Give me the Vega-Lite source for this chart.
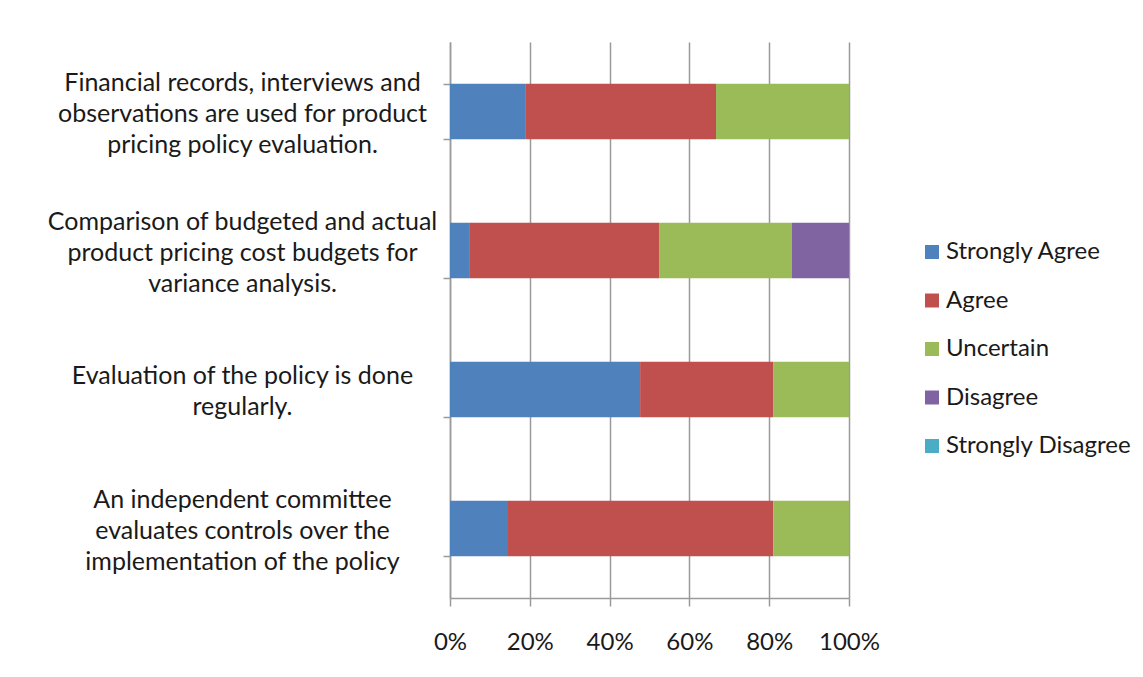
{
  "$schema": "https://vega.github.io/schema/vega-lite/v6.json",
  "autosize": {"type": "none"},
  "width": 399,
  "height": 556,
  "padding": {"left": 450, "top": 42, "right": 294, "bottom": 79},
  "background": "white",
  "data": {
    "values": [
      {"statement": "Financial records, interviews and|observations are used for product|pricing policy evaluation.", "response": "Strongly Agree", "rank": 1, "pct": 19.0},
      {"statement": "Financial records, interviews and|observations are used for product|pricing policy evaluation.", "response": "Agree", "rank": 2, "pct": 47.6},
      {"statement": "Financial records, interviews and|observations are used for product|pricing policy evaluation.", "response": "Uncertain", "rank": 3, "pct": 33.3},
      {"statement": "Comparison of budgeted and actual|product pricing cost budgets for|variance analysis.", "response": "Strongly Agree", "rank": 1, "pct": 4.8},
      {"statement": "Comparison of budgeted and actual|product pricing cost budgets for|variance analysis.", "response": "Agree", "rank": 2, "pct": 47.6},
      {"statement": "Comparison of budgeted and actual|product pricing cost budgets for|variance analysis.", "response": "Uncertain", "rank": 3, "pct": 33.3},
      {"statement": "Comparison of budgeted and actual|product pricing cost budgets for|variance analysis.", "response": "Disagree", "rank": 4, "pct": 14.3},
      {"statement": "Evaluation of the policy is done|regularly.", "response": "Strongly Agree", "rank": 1, "pct": 47.6},
      {"statement": "Evaluation of the policy is done|regularly.", "response": "Agree", "rank": 2, "pct": 33.3},
      {"statement": "Evaluation of the policy is done|regularly.", "response": "Uncertain", "rank": 3, "pct": 19.0},
      {"statement": "An independent committee|evaluates controls over the|implementation of the policy", "response": "Strongly Agree", "rank": 1, "pct": 14.3},
      {"statement": "An independent committee|evaluates controls over the|implementation of the policy", "response": "Agree", "rank": 2, "pct": 66.7},
      {"statement": "An independent committee|evaluates controls over the|implementation of the policy", "response": "Uncertain", "rank": 3, "pct": 19.0}
    ]
  },
  "mark": {"type": "bar"},
  "encoding": {
    "y": {
      "field": "statement",
      "type": "nominal",
      "sort": null,
      "scale": {"paddingInner": 0.6, "paddingOuter": 0.3},
      "axis": {
        "title": null,
        "labelExpr": "split(datum.label, '|')",
        "labelAlign": "center",
        "labelBaseline": "middle",
        "labelPadding": 201,
        "labelOffset": {"condition": {"test": "length(split(datum.label, '|')) == 3", "value": -29.5}, "value": -14},
        "labelFont": "Lato",
        "labelFontSize": 25,
        "labelLineHeight": 31,
        "labelColor": "#1a1a1a",
        "labelLimit": 0,
        "tickBand": "extent",
        "tickSize": 7,
        "tickColor": "#9a9a9a",
        "tickWidth": 1.5,
        "domainColor": "#9a9a9a",
        "domainWidth": 1.5,
        "grid": false
      }
    },
    "x": {
      "field": "pct",
      "type": "quantitative",
      "stack": "normalize",
      "scale": {"domain": [0, 1], "nice": false},
      "axis": {
        "title": null,
        "format": ".0%",
        "values": [0, 0.2, 0.4, 0.6, 0.8, 1],
        "labelFont": "Lato",
        "labelFontSize": 24,
        "labelColor": "#1a1a1a",
        "labelPadding": 24,
        "labelFlush": false,
        "tickSize": 8,
        "tickColor": "#9a9a9a",
        "tickWidth": 1.5,
        "domainColor": "#9a9a9a",
        "domainWidth": 1.5,
        "grid": true,
        "gridColor": "#9a9a9a",
        "gridWidth": 1.5
      }
    },
    "order": {"field": "rank", "type": "quantitative"},
    "color": {
      "field": "response",
      "type": "nominal",
      "sort": ["Strongly Agree", "Agree", "Uncertain", "Disagree", "Strongly Disagree"],
      "scale": {
        "domain": ["Strongly Agree", "Agree", "Uncertain", "Disagree", "Strongly Disagree"],
        "range": ["#4F81BD", "#C0504D", "#9BBB59", "#8064A2", "#4BACC6"]
      },
      "legend": {
        "title": null,
        "orient": "none",
        "legendX": 470,
        "legendY": 198,
        "padding": 0,
        "symbolType": "square",
        "symbolSize": 196,
        "symbolStrokeWidth": 0,
        "labelFont": "Lato",
        "labelFontSize": 24,
        "labelColor": "#1a1a1a",
        "labelOffset": 2,
        "labelLimit": 0,
        "rowPadding": 24.5
      }
    }
  },
  "config": {
    "view": {"stroke": null}
  }
}
